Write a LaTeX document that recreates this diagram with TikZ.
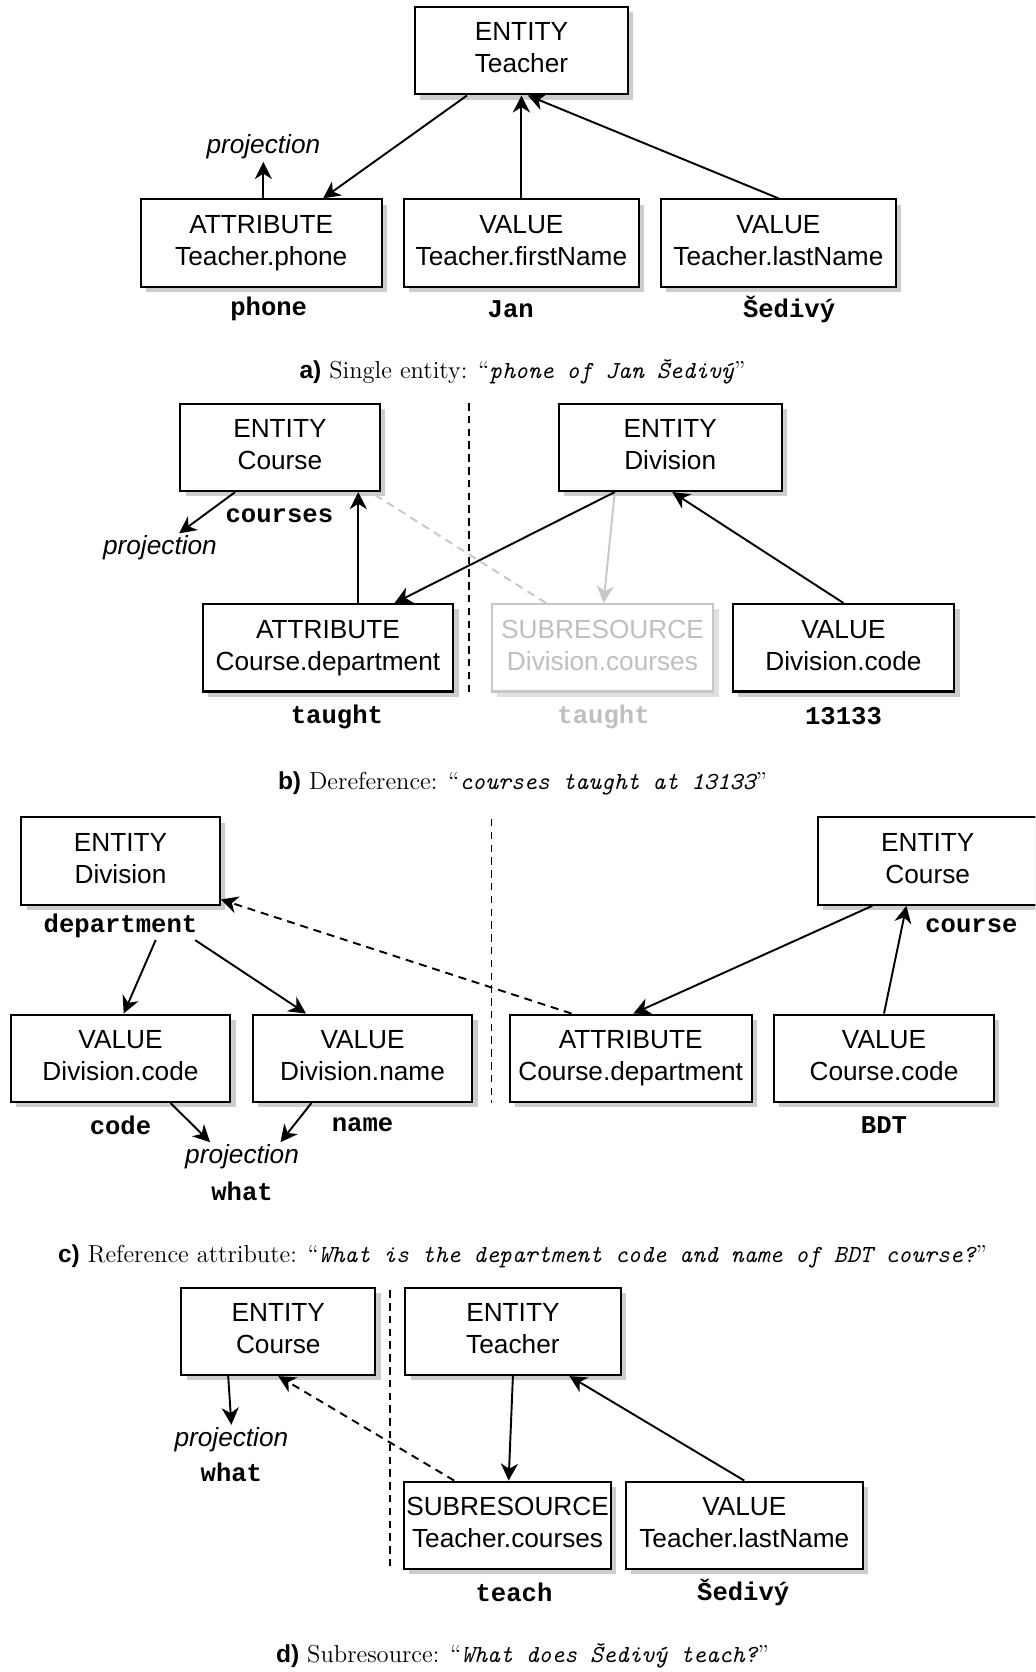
\documentclass[tikz,border=0pt]{standalone}
\usepackage{fontspec}
\newfontfamily\boxfont{Liberation Sans}
\newfontfamily\labfont{Liberation Mono}
\usetikzlibrary{arrows.meta,shadows}

\begin{document}
\begin{tikzpicture}[x=0.5pt,y=-0.5pt]
        \tikzstyle{res}=[draw,fill=white,line width=1pt,align=center,inner sep=1pt,text depth=2.6pt,minimum height=41pt,font=\boxfont\fontsize{12.3}{15}\selectfont]
        \tikzstyle{box}=[res,drop shadow={shadow xshift=2.5pt,shadow yshift=-2.5pt,fill=black!20,opacity=1}]
        \tikzstyle{greybox}=[res,draw=black!22,text=black!25,drop shadow={shadow xshift=2.5pt,shadow yshift=-2.5pt,fill=black!12,opacity=1}]
        \tikzstyle{lab}=[inner sep=1pt,font=\labfont\bfseries\fontsize{12}{14}\selectfont]
        \tikzstyle{proj}=[inner sep=1pt,font=\boxfont\itshape\fontsize{12.3}{14}\selectfont]
        \tikzstyle{figcap}=[inner sep=0pt,font=\fontsize{11.5}{14}\selectfont]
        \tikzstyle{link}=[line width=0.9pt,-{Stealth[length=8pt,width=8pt,inset=2.5pt]}]
        \tikzstyle{refline}=[link,dash pattern=on 3.75pt off 2.75pt]
        \tikzstyle{divider}=[line width=0.8pt,dash pattern=on 3.5pt off 2.5pt]

        \useasboundingbox (0,0) rectangle (971,1568);
        \clip (0,0) rectangle (971,1568);

        %a) single entity
        \begin{scope}
        \node [box,minimum width=100pt] (aEnt) at (489,47.5) {ENTITY\\Teacher};
        \node [box,minimum width=113pt] (aAttr) at (245,228) {ATTRIBUTE\\Teacher.phone};
        \node [box,minimum width=110pt] (aFirst) at (489,228) {VALUE\\Teacher.firstName};
        \node [box,minimum width=110pt] (aLast) at (730,228) {VALUE\\Teacher.lastName};
        \node [proj] (aProj) at (247,138) {projection};
        \node [lab] (aPhone) at (252,290) {phone};
        \node [lab] (aJan) at (479,290) {Jan};
        \node [lab] (aSed) at (740,290) {Šedivý};

        \draw [link] ([xshift=-25.5pt]aEnt.south) -- ([xshift=29pt]aAttr.north);
        \draw [link] ([xshift=1pt]aAttr.north) -- (aProj.south);
        \draw [link] (aFirst.north) -- (aEnt.south);
        \draw [link] (aLast.north) -- ([xshift=3pt]aEnt.south);

        \node [figcap] (aCap) at (490,349) {{\boxfont\bfseries a)} Single entity: “{\ttfamily\itshape phone of Jan Šedivý}”};
        \end{scope}

        %b) dereference
        \begin{scope}
        \node [box,minimum width=93.5pt] (bCourse) at (262.5,419.5) {ENTITY\\Course};
        \node [box,minimum width=104.5pt] (bDiv) at (628.5,419.5) {ENTITY\\Division};
        \node [box,minimum width=117.5pt] (bAttr) at (307.5,607.5) {ATTRIBUTE\\Course.department};
        \node [greybox,minimum width=104pt] (bSub) at (565,607.5) {SUBRESOURCE\\Division.courses};
        \node [box,minimum width=104pt] (bCode) at (791,607.5) {VALUE\\Division.code};
        \node [lab] (bCourses) at (262,484) {courses};
        \node [proj] (bProj) at (150,514) {projection};
        \node [lab] (bTaught) at (316,672) {taught};
        \node [lab,text=black!25] (bTaughtSub) at (566,672) {taught};
        \node [lab] (bNum) at (791,672) {13133};
        \coordinate (bTop) at (440,378);
        \coordinate (bBottom) at (440,650);

        \draw [divider] (bTop) -- (bBottom);
        \draw [link] ([xshift=-21pt]bCourse.south) -- ([xshift=9pt]bProj.north);
        \draw [line width=0.9pt,black!22,dash pattern=on 3.75pt off 2.75pt] ([xshift=-26.5pt]bSub.north) -- ([xshift=42.5pt]bCourse.south);
        \draw [link,black!22] ([xshift=-26pt]bDiv.south) -- ([xshift=0.5pt]bSub.north);
        \draw [link] ([xshift=14.25pt]bAttr.north) -- ([xshift=36.75pt]bCourse.south);
        \draw [link] ([xshift=-26pt]bDiv.south) -- ([xshift=31.25pt]bAttr.north);
        \draw [link] (bCode.north) -- ([xshift=1pt]bDiv.south);

        \node [figcap] (bCap) at (490,735) {{\boxfont\bfseries b)} Dereference: “{\ttfamily\itshape courses taught at 13133}”};
        \end{scope}

        %c) reference attribute
        \begin{scope}
        \node [box,minimum width=93pt] (cDiv) at (113,807.5) {ENTITY\\Division};
        \node [box,minimum width=103pt] (cCourse) at (870,807.5) {ENTITY\\Course};
        \node [box,minimum width=103pt] (cCode) at (113,992.5) {VALUE\\Division.code};
        \node [box,minimum width=103pt] (cName) at (340,992.5) {VALUE\\Division.name};
        \node [box,minimum width=113.5pt] (cAttr) at (591.5,992.5) {ATTRIBUTE\\Course.department};
        \node [box,minimum width=103pt] (cCcode) at (829,992.5) {VALUE\\Course.code};
        \node [lab] (cDept) at (113,868) {department};
        \node [lab] (cCrs) at (911,868) {course};
        \node [lab] (cCodeLab) at (113,1055) {code};
        \node [lab] (cNameLab) at (340,1055) {name};
        \node [lab] (cBdt) at (829,1055) {BDT};
        \node [proj] (cProj) at (227,1085) {projection};
        \node [lab] (cWhat) at (227,1117) {what};
        \coordinate (cTop) at (461,768);
        \coordinate (cBottom) at (461,1034);

        \draw [divider] (cTop) -- (cBottom);
        \draw [link] ([xshift=16.5pt]cDept.south) -- ([xshift=1.5pt]cCode.north);
        \draw [link] ([xshift=35pt]cDept.south) -- ([xshift=-26.5pt]cName.north);
        \draw [refline] ([xshift=-27.75pt]cAttr.north) -- ([yshift=3pt]cDiv.south east);
        \draw [link] ([xshift=-26pt]cCourse.south) -- ([xshift=1.25pt]cAttr.north);
        \draw [link] (cCcode.north) -- ([xshift=-10pt]cCourse.south);
        \draw [link] ([xshift=23.5pt]cCode.south) -- ([xshift=-15pt]cProj.north);
        \draw [link] ([xshift=-24pt]cName.south) -- ([xshift=18pt]cProj.north);

        \node [figcap] (cCap) at (490,1178) {{\boxfont\bfseries c)} Reference attribute: “{\ttfamily\itshape What is the department code and name of BDT course?}”};
        \end{scope}

        %d) subresource
        \begin{scope}
        \node [box,minimum width=91pt] (dCourse) at (261,1248.5) {ENTITY\\Course};
        \node [box,minimum width=101pt] (dTeacher) at (481,1248.5) {ENTITY\\Teacher};
        \node [box,minimum width=96pt] (dSub) at (476,1430.5) {SUBRESOURCE\\Teacher.courses};
        \node [box,minimum width=111pt] (dLast) at (698,1430.5) {VALUE\\Teacher.lastName};
        \node [proj] (dProj) at (217,1350) {projection};
        \node [lab] (dWhat) at (217,1381) {what};
        \node [lab] (dTeach) at (482,1493) {teach};
        \node [lab] (dSed) at (697,1493) {Šedivý};
        \coordinate (dTop) at (366,1210);
        \coordinate (dBottom) at (366,1472);

        \draw [divider] (dTop) -- (dBottom);
        \draw [link] ([xshift=-23.5pt]dCourse.south) -- (dProj.north);
        \draw [refline] ([xshift=-25pt]dSub.north) -- (dCourse.south);
        \draw [link] (dTeacher.south) -- ([xshift=0.5pt]dSub.north);
        \draw [link] (dLast.north) -- ([xshift=26.5pt]dTeacher.south);

        \node [figcap] (dCap) at (490,1553) {{\boxfont\bfseries d)} Subresource: “{\ttfamily\itshape What does Šedivý teach?}”};
        \end{scope}
\end{tikzpicture}
\end{document}
